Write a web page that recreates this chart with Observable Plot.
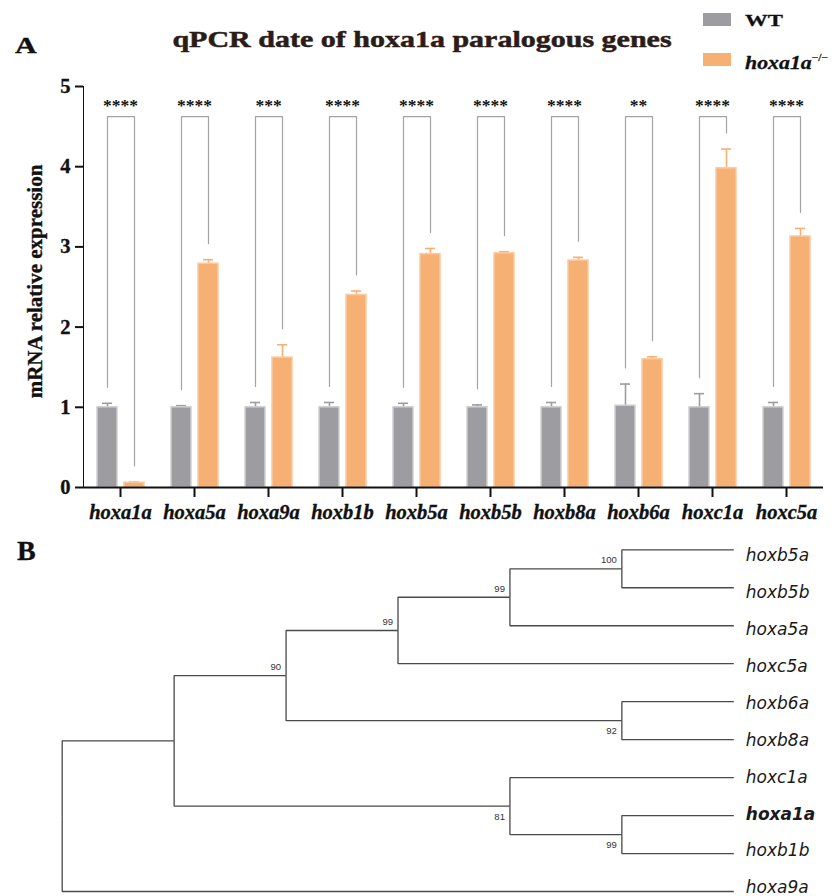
<!DOCTYPE html>
<html>
<head>
<meta charset="utf-8">
<script src="https://cdn.jsdelivr.net/npm/d3@7"></script>
<script src="https://cdn.jsdelivr.net/npm/@observablehq/plot@0.6"></script>
<style>
  body { margin: 0; background: #fff; }
  #root { position: relative; width: 837px; height: 896px; overflow: hidden; background: #fff; }
  .abs { position: absolute; white-space: nowrap; line-height: 1; font-family: "Liberation Serif", "Times New Roman", serif; font-weight: bold; color: #111; }
  #plotA, #plotB { position: absolute; left: 0; }
  #plotA { top: 0; }
  #plotB { top: 530px; }
  #plotA [aria-label^="y-axis"], #plotA [aria-label^="fx-axis tick"] { stroke-width: 2px; }
  #plotA g[aria-label="fx-axis tick label"] { font-style: italic; }
  #plotA g[aria-label="fx-axis tick label"] text, #plotA g[aria-label="y-axis tick label"] text { stroke: #111; stroke-width: 0.35px; }
  .sw { position: absolute; width: 28px; height: 13px; }
</style>
</head>
<body>
<div id="root"></div>
<script>
// ---------- Panel A data ----------
const genes = ["hoxa1a", "hoxa5a", "hoxa9a", "hoxb1b", "hoxb5a", "hoxb5b", "hoxb8a", "hoxb6a", "hoxc1a", "hoxc5a"];
const groups = ["WT", "KO"];
const wtMean = [1.00, 1.00, 1.00, 1.00, 1.00, 1.00, 1.00, 1.02, 1.00, 1.00];
const wtErr  = [0.05, 0.02, 0.06, 0.06, 0.05, 0.03, 0.06, 0.27, 0.17, 0.06];
const koMean = [0.06, 2.79, 1.62, 2.40, 2.91, 2.92, 2.83, 1.60, 3.98, 3.13];
const koErr  = [0.01, 0.05, 0.16, 0.05, 0.07, 0.02, 0.04, 0.03, 0.24, 0.10];
const significance = ["****", "****", "***", "****", "****", "****", "****", "**", "****", "****"];
const yTicks = [0, 1, 2, 3, 4, 5];
const bracketTop = 4.625;
const bracketGap = 0.2;
const starY = 4.77;

// ---------- Panel B data (tree, preorder) ----------
const treeNode    = ["root", "c1", "c2", "c3", "c4", "c5", "hoxb5a", "hoxb5b", "hoxa5a", "hoxc5a", "c6", "hoxb6a", "hoxb8a", "c7", "hoxc1a", "c8", "hoxa1a", "hoxb1b", "hoxa9a"];
const treeParent  = [null, "root", "c1", "c2", "c3", "c4", "c5", "c5", "c4", "c3", "c2", "c6", "c6", "c1", "c7", "c7", "c8", "c8", "root"];
const treeSupport = [null, null, 90, 99, 99, 100, null, null, null, null, 92, null, null, 81, null, 99, null, null, null];
const highlightGene = "hoxa1a";
// leaf labels are spaced slightly tighter than the leaf branches in the original
const labelSpacing = 0.9745;
const labelOffset = 0.1385;

const gray = "#9d9ca1", grayEdge = "#cfcfd3";
const orange = "#f7b074", orangeEdge = "#fbcaa0";

const rootEl = document.getElementById("root");

// ---------- Panel A ----------
const rows = genes.flatMap((g, i) => [
  {gene: g, group: "WT", mean: wtMean[i], err: wtErr[i]},
  {gene: g, group: "KO", mean: koMean[i], err: koErr[i]}
]);
const wtRows = rows.filter(d => d.group === "WT");
const koRows = rows.filter(d => d.group === "KO");
const bracketPts = genes.flatMap((g, i) => [
  {gene: g, group: "WT", y: wtMean[i] + wtErr[i] + bracketGap},
  {gene: g, group: "WT", y: bracketTop},
  {gene: g, group: "KO", y: bracketTop},
  {gene: g, group: "KO", y: koMean[i] + koErr[i] + bracketGap}
]);

const plotA = Plot.plot({
  width: 837,
  height: 530,
  marginLeft: 80,
  marginRight: 11,
  marginTop: 86,
  marginBottom: 43,
  style: {fontFamily: "'Liberation Serif', 'Times New Roman', serif", fontSize: "20.5px", fontWeight: "bold", color: "#111", background: "transparent"},
  fx: {domain: genes, padding: 0, axis: "bottom", tickSize: 10, tickPadding: 7, label: null},
  x: {domain: groups, paddingInner: 0.26, paddingOuter: 0.5, axis: null},
  y: {domain: [0, 5], ticks: yTicks, tickSize: 8, tickPadding: 5, line: true, label: null, tickFormat: d3.format("d")},
  marks: [
    Plot.line(bracketPts, {fx: "gene", x: "group", y: "y", z: "gene", stroke: "#a3a3a3", strokeWidth: 1.2}),
    Plot.ruleX(wtRows, {fx: "gene", x: "group", y1: "mean", y2: d => d.mean + d.err, stroke: gray, strokeWidth: 1.6}),
    Plot.tickY(wtRows, {fx: "gene", x: "group", y: d => d.mean + d.err, stroke: gray, strokeWidth: 1.6, insetLeft: 5, insetRight: 5}),
    Plot.ruleX(koRows, {fx: "gene", x: "group", y1: "mean", y2: d => d.mean + d.err, stroke: orange, strokeWidth: 1.6}),
    Plot.tickY(koRows, {fx: "gene", x: "group", y: d => d.mean + d.err, stroke: orange, strokeWidth: 1.6, insetLeft: 5, insetRight: 5}),
    Plot.barY(wtRows, {fx: "gene", x: "group", y: "mean", fill: gray, stroke: grayEdge, strokeWidth: 1.5}),
    Plot.barY(koRows, {fx: "gene", x: "group", y: "mean", fill: orange, stroke: orangeEdge, strokeWidth: 1.5}),
    Plot.text(genes, {fx: d => d, y: () => starY, text: (d, i) => significance[i], fontSize: 17.5, fill: "#111"}),
    Plot.ruleY([0], {stroke: "#111", strokeWidth: 2})
  ]
});
plotA.id = "plotA";
rootEl.appendChild(plotA);

// ---------- Panel B ----------
const table = treeNode.map((id, i) => ({id, parent: treeParent[i], support: treeSupport[i]}));
const tree = d3.stratify().id(d => d.id).parentId(d => d.parent)(table);
const leaves = tree.leaves();
leaves.forEach((n, i) => { n.py = i; });
tree.eachAfter(n => {
  n.px = tree.height - n.height;
  if (n.children) n.py = d3.mean(n.children, c => c.py);
});
const links = tree.links();
const supported = tree.descendants().filter(n => n.data.support != null);
const isUpper = n => n.parent && n.parent.children[0] === n;
const leafLabelY = n => n.py * labelSpacing + labelOffset;

const plotB = Plot.plot({
  width: 837,
  height: 366,
  marginLeft: 61.7,
  marginRight: 103.7,
  marginTop: 19.3,
  marginBottom: 5,
  style: {background: "transparent", overflow: "visible"},
  x: {domain: [0, tree.height], axis: null},
  y: {domain: [0, leaves.length - 1], reverse: true, axis: null},
  marks: [
    Plot.link(links, {
      x1: d => d.source.px, y1: d => d.source.py,
      x2: d => d.target.px, y2: d => d.target.py,
      curve: "step-before", stroke: "#4a4a4a", strokeWidth: 1.3
    }),
    Plot.text(leaves.filter(n => n.id !== highlightGene), {
      x: "px", y: leafLabelY, text: "id", textAnchor: "start", dx: 12,
      fontFamily: "'DejaVu Sans', sans-serif", fontStyle: "italic", fontSize: 17, fill: "#1a1a1a"
    }),
    Plot.text(leaves.filter(n => n.id === highlightGene), {
      x: "px", y: leafLabelY, text: "id", textAnchor: "start", dx: 12,
      fontFamily: "'DejaVu Sans', sans-serif", fontStyle: "italic", fontWeight: "bold", fontSize: 17, fill: "#1a1a1a"
    }),
    Plot.text(supported.filter(isUpper), {
      x: "px", y: "py", text: d => String(d.data.support), textAnchor: "end", dx: -5, dy: -8.6,
      fontFamily: "'Liberation Sans', sans-serif", fontSize: 9.5, fill: "#333"
    }),
    Plot.text(supported.filter(n => !isUpper(n)), {
      x: "px", y: "py", text: d => String(d.data.support), textAnchor: "end", dx: -5, dy: 10.7,
      fontFamily: "'Liberation Sans', sans-serif", fontSize: 9.5, fill: "#333"
    })
  ]
});
plotB.id = "plotB";
rootEl.appendChild(plotB);

// ---------- Text overlays ----------
function addText(html, css) {
  const el = document.createElement("div");
  el.className = "abs";
  el.innerHTML = html;
  Object.assign(el.style, css);
  rootEl.appendChild(el);
  return el;
}
addText("A", {left: "15px", top: "33px", fontSize: "24px", transform: "scaleX(1.25)", transformOrigin: "left top", webkitTextStroke: "0.4px #111"});
addText("qPCR date of hoxa1a paralogous genes", {left: "422px", top: "26.5px", fontSize: "24px", color: "#2b1c18", transform: "translateX(-50%) scaleX(1.25)", transformOrigin: "center top", webkitTextStroke: "0.5px #2b1c18"});
addText("B", {left: "17px", top: "536.5px", fontSize: "28px", webkitTextStroke: "0.3px #111"});
addText("mRNA relative expression", {left: "-115.5px", top: "271.2px", width: "300px", textAlign: "center", fontSize: "21px", transform: "rotate(-90deg)", transformOrigin: "center center", webkitTextStroke: "0.35px #111"});

// legend
const sw1 = document.createElement("div"); sw1.className = "sw";
Object.assign(sw1.style, {left: "703px", top: "13px", background: gray});
rootEl.appendChild(sw1);
const sw2 = document.createElement("div"); sw2.className = "sw";
Object.assign(sw2.style, {left: "703px", top: "52.5px", background: orange});
rootEl.appendChild(sw2);
addText("WT", {left: "745px", top: "12px", fontSize: "17.5px", transform: "scaleX(1.3)", transformOrigin: "left top", webkitTextStroke: "0.3px #111"});
addText("<i>hoxa1a</i><sup style='font-size:10px;font-weight:normal;vertical-align:8px'>−/−</sup>", {left: "745px", top: "52.5px", fontSize: "19px", transform: "scaleX(1.15)", transformOrigin: "left top", webkitTextStroke: "0.3px #111"});
</script>
</body>
</html>
